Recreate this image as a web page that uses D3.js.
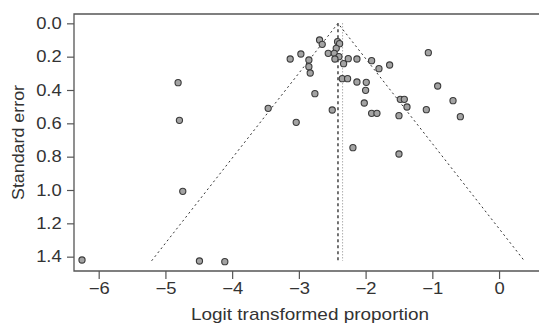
<!DOCTYPE html>
<html>
<head>
<meta charset="utf-8">
<script src="https://cdn.jsdelivr.net/npm/d3@7"></script>
<style>
  body { margin: 0; background: #fff; }
  svg { display: block; font-family: "Liberation Sans", Arial, Helvetica, sans-serif; }
</style>
</head>
<body>
<svg id="chart" width="539" height="325"></svg>
<script>
// study estimates
const logitProp = [
  -6.25, -4.49, -4.11, -4.74, -4.81, -4.79, -3.46, -3.04, -2.76, -2.50,
  -2.19, -1.50, -3.13, -2.97, -2.85, -2.85, -2.83, -2.69, -2.65, -2.42,
  -2.39, -2.44, -2.56, -2.47, -2.40, -2.46, -2.33, -2.26, -2.13, -1.91,
  -1.80, -1.64, -2.35, -2.27, -2.13, -1.99, -2.00, -2.02, -1.91, -1.83,
  -1.48, -1.42, -1.38, -1.50, -1.09, -1.06, -0.92, -0.69, -0.58
];
const stdErr = [
  1.420, 1.426, 1.430, 1.008, 0.356, 0.582, 0.510, 0.594, 0.422, 0.520,
  0.746, 0.784, 0.214, 0.184, 0.220, 0.260, 0.298, 0.100, 0.126, 0.110,
  0.122, 0.150, 0.180, 0.180, 0.200, 0.214, 0.242, 0.212, 0.214, 0.224,
  0.272, 0.250, 0.332, 0.332, 0.352, 0.354, 0.402, 0.478, 0.540, 0.540,
  0.456, 0.456, 0.502, 0.554, 0.518, 0.176, 0.376, 0.464, 0.560
];
const pooledFixed = -2.414;   // dashed vertical + funnel apex
const pooledRandom = -2.345;  // dotted vertical
const seMax = 1.425;
const xTicks = [-6, -5, -4, -3, -2, -1, 0];
const yTicks = [0, 0.2, 0.4, 0.6, 0.8, 1.0, 1.2, 1.4];

const svg = d3.select("#chart");
const mLeft = 74, mTop = 14, mBottom = 271, mRight = 539.1;

const x = d3.scaleLinear().domain([-6.37, 0.6]).range([mLeft, mRight]);
const y = d3.scaleLinear().domain([-0.056, 1.486]).range([mTop, mBottom]);

const axisCol = "#555";
const textCol = "#333";
const stretch = "scale(1.15,1)"; // original lettering is a bit wider than Liberation

// frame (right side falls outside the picture)
svg.append("path")
  .attr("d", `M${mRight + 5},${mTop}H${mLeft}V${mBottom}H${mRight + 5}`)
  .attr("fill", "none")
  .attr("stroke", axisCol)
  .attr("stroke-width", 1.3);

// x axis
const xAxis = svg.append("g")
  .attr("transform", `translate(0,${mBottom})`)
  .call(d3.axisBottom(x).tickValues(xTicks).tickSize(8).tickPadding(4)
    .tickFormat(d => d < 0 ? "\u2212" + Math.abs(d) : d));
xAxis.select(".domain").remove();
xAxis.selectAll("line").attr("stroke", axisCol).attr("stroke-width", 1.2);
xAxis.selectAll("text")
  .attr("fill", textCol)
  .attr("font-size", 16)
  .attr("font-family", null)
  .attr("transform", stretch);

// y axis
const yAxis = svg.append("g")
  .attr("transform", `translate(${mLeft},0)`)
  .call(d3.axisLeft(y).tickValues(yTicks).tickSize(7).tickPadding(3.7)
    .tickFormat(d3.format(".1f")));
yAxis.select(".domain").remove();
yAxis.selectAll("line").attr("stroke", axisCol).attr("stroke-width", 1.2);
yAxis.selectAll("text")
  .attr("fill", textCol)
  .attr("font-size", 16)
  .attr("font-family", null)
  .attr("transform", stretch);

// titles
svg.append("text")
  .attr("x", 310).attr("y", 320)
  .attr("text-anchor", "middle")
  .attr("font-size", 17)
  .attr("fill", textCol)
  .attr("textLength", 238)
  .attr("lengthAdjust", "spacingAndGlyphs")
  .text("Logit transformed proportion");

svg.append("text")
  .attr("transform", `translate(24,${(mTop + mBottom) / 2}) rotate(-90)`)
  .attr("text-anchor", "middle")
  .attr("font-size", 17)
  .attr("fill", textCol)
  .attr("textLength", 115)
  .attr("lengthAdjust", "spacingAndGlyphs")
  .text("Standard error");

// funnel
const funnel = [
  [pooledFixed - 1.96 * seMax, seMax],
  [pooledFixed, 0],
  [pooledFixed + 1.96 * seMax, seMax]
];
svg.append("path")
  .attr("d", d3.line().x(d => x(d[0])).y(d => y(d[1]))(funnel))
  .attr("fill", "none")
  .attr("stroke", "#333")
  .attr("stroke-width", 1)
  .attr("stroke-dasharray", "2,3");

// pooled estimates
svg.append("line")
  .attr("x1", x(pooledFixed)).attr("x2", x(pooledFixed))
  .attr("y1", y(0)).attr("y2", y(seMax))
  .attr("stroke", "#444")
  .attr("stroke-width", 1.5)
  .attr("stroke-dasharray", "3,3");

svg.append("line")
  .attr("x1", x(pooledRandom)).attr("x2", x(pooledRandom))
  .attr("y1", y(0)).attr("y2", y(seMax))
  .attr("stroke", "#888")
  .attr("stroke-width", 1)
  .attr("stroke-dasharray", "1,2");

// studies
svg.append("g")
  .selectAll("circle")
  .data(logitProp.map((v, i) => ({ est: v, se: stdErr[i] })))
  .join("circle")
    .attr("cx", d => x(d.est))
    .attr("cy", d => y(d.se))
    .attr("r", 3.1)
    .attr("fill", "#a3a3a3")
    .attr("stroke", "#3a3a3a")
    .attr("stroke-width", 1.1);
</script>
</body>
</html>
